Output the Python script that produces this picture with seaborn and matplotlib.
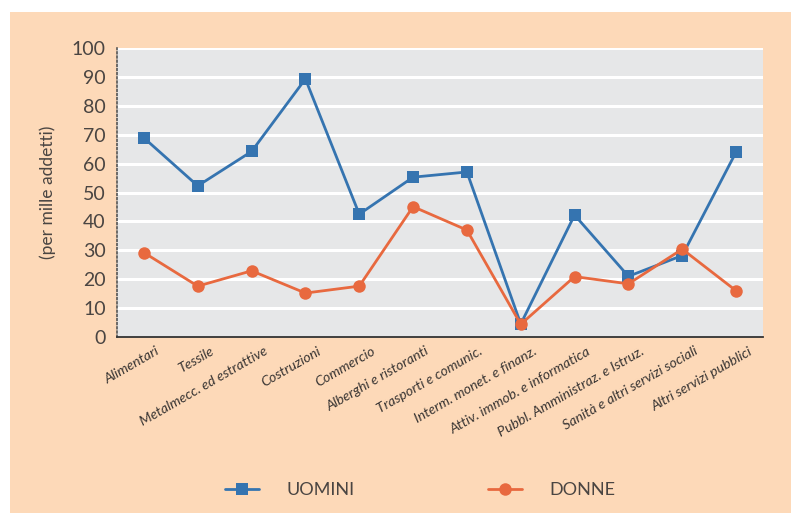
import numpy as np
import pandas as pd
import matplotlib
matplotlib.use('Agg')
import matplotlib.pyplot as plt
from matplotlib.patches import Rectangle
import seaborn as sns

# data (per mille addetti)
settori = ['Alimentari', 'Tessile', 'Metalmecc. ed estrattive', 'Costruzioni',
           'Commercio', 'Alberghi e ristoranti', 'Trasporti e comunic.',
           'Interm. monet. e finanz.', 'Attiv. immob. e informatica',
           'Pubbl. Amministraz. e Istruz.', 'Sanità e altri servizi sociali',
           'Altri servizi pubblici']
uomini = [68.9, 52.3, 64.2, 89.3, 42.5, 55.3, 57.1, 4.5, 42.2, 21.0, 28.2, 64.0]
donne = [29.2, 17.6, 22.9, 15.2, 17.6, 45.1, 37.0, 4.4, 20.9, 18.4, 30.4, 16.0]
yticks = list(range(0, 101, 10))

blu = '#3574b0'
arancio = '#e8693f'
pesca = '#fdd9b8'
grigio = '#e6e7e8'
testo = '#4a4542'

df = pd.DataFrame({
    'settore': settori * 2,
    'valore': uomini + donne,
    'sesso': ['UOMINI'] * len(settori) + ['DONNE'] * len(settori),
})
df['pos'] = list(range(len(settori))) * 2

sns.set_style('white')
plt.rcParams['font.family'] = ['Lato', 'DejaVu Sans']

fig = plt.figure(figsize=(7.91, 5.13), dpi=100)
fig.patch.set_facecolor('white')
fig.add_artist(Rectangle((10 / 791, 0), 1, 1 - 12 / 513, transform=fig.transFigure,
                         facecolor=pesca, edgecolor='none', zorder=-10))

ax = fig.add_axes([117 / 791, 1 - 337 / 513, (763 - 117) / 791, (337 - 48) / 513])
ax.set_facecolor(grigio)

sns.lineplot(data=df, x='pos', y='valore', hue='sesso', style='sesso',
             palette={'UOMINI': blu, 'DONNE': arancio},
             markers={'UOMINI': 's', 'DONNE': 'o'}, dashes=False,
             markersize=9, markeredgewidth=0, linewidth=2, ax=ax, legend=True, zorder=3)

ax.set_xlim(-0.5, len(settori) - 0.5)
ax.set_ylim(0, 100)
ax.set_yticks(yticks)
for y in yticks[1:]:
    ax.axhline(y, color='white', lw=2.2, zorder=1)

ax.set_xticks(range(len(settori)))
ax.set_xticklabels([])
ax.set_xticks(np.arange(-0.5, len(settori), 1), minor=True)
ax.tick_params(axis='x', which='major', length=0)
ax.tick_params(axis='x', which='minor', length=6, width=1.2, color='#807a76')
ax.tick_params(axis='y', length=6, width=1.2, color=testo, labelsize=14,
               labelcolor=testo, pad=2)

for i, s in enumerate(settori):
    ax.text(i + 0.22, -2.8, s, rotation=30, ha='right', va='top',
            rotation_mode='anchor', fontsize=10.2, style='italic',
            color='#3a3634')

ax.set_xlabel('')
ax.set_ylabel('')
fig.text(48 / 791, 1 - 192 / 513, '(per mille addetti)', rotation=90, ha='center',
         va='center', fontsize=12.5, color=testo)

for side in ['top', 'right']:
    ax.spines[side].set_visible(False)
ax.spines['left'].set_linestyle((0, (1, 1.5)))
ax.spines['left'].set_color('#555')
ax.spines['left'].set_linewidth(1.2)
ax.spines['bottom'].set_color('#333')
ax.spines['bottom'].set_linewidth(1.3)

handles, labels = ax.get_legend_handles_labels()
ax.get_legend().remove()
leg = fig.legend(handles, labels, loc='center', ncol=2, frameon=False,
                 bbox_to_anchor=(420 / 791, 1 - 490 / 513), fontsize=13,
                 handlelength=1.9, handletextpad=1.5, columnspacing=7.4)
for t in leg.get_texts():
    t.set_color(testo)

fig.savefig('out.png', dpi=100, facecolor=fig.get_facecolor())
